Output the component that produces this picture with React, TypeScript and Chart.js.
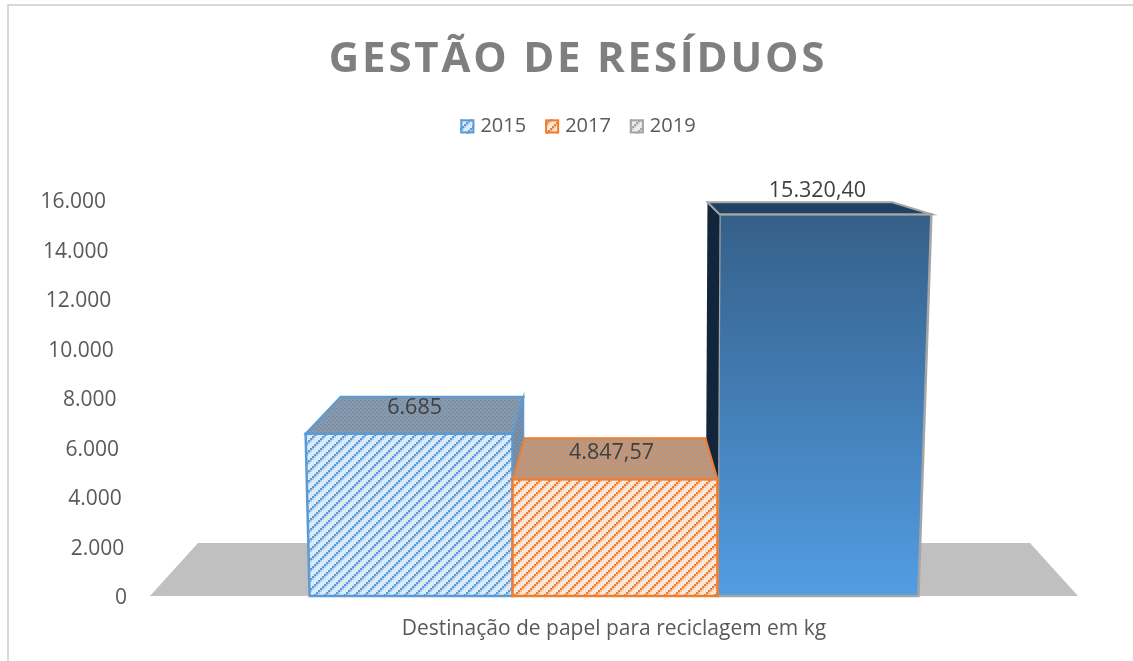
import React, { useEffect, useRef } from "react";
import { Chart, registerables } from "chart.js";

Chart.register(...registerables);

const categories = ["Destinação de papel para reciclagem em kg"];
const seriesNames = ["2015", "2017", "2019"];
const seriesValues = [6685, 4847.57, 15320.4];
const valueLabels = ["6.685", "4.847,57", "15.320,40"];
const axisMax = 16000;
const axisStep = 2000;

const FONT = "'Open Sans', sans-serif";

function tile(size: number, paint: (c: CanvasRenderingContext2D) => void) {
  const cv = document.createElement("canvas");
  cv.width = size;
  cv.height = size;
  const c = cv.getContext("2d")!;
  paint(c);
  return c.createPattern(cv, "repeat")!;
}

function stripes(bg: string, mid: string, fg: string) {
  const s = 10;
  return tile(s, (c) => {
    c.fillStyle = bg;
    c.fillRect(0, 0, s, s);
    for (let i = 0; i < s; i += 2) {
      const y = s - 2 - i;
      c.fillStyle = mid;
      c.fillRect((i + 2) % s, y, 2, 2);
      c.fillStyle = fg;
      c.fillRect(i, y, 2, 2);
    }
  });
}

function weave(a: string, b: string) {
  return tile(4, (c) => {
    c.fillStyle = a;
    c.fillRect(0, 0, 4, 4);
    c.fillStyle = b;
    c.fillRect(0, 0, 2, 1);
    c.fillRect(2, 2, 2, 1);
  });
}

// 3D look of each bar, as pixel offsets from the bar element
const looks = [
  { blx: 0, brx: 0, tlx: -4, trx: 0, dy: 3, backL: [35, -37], backR: [11, -37], label: [3.5, -23] },
  { blx: 0, brx: 2, tlx: 0, trx: 2, dy: 3, backL: [12, -41], backR: [-12, -41], label: [-2.5, -23] },
  { blx: 2, brx: 0, tlx: 4, trx: 13, dy: -3, backL: [-12, -12], backR: [-39, -12], label: [0.5, -26] },
];

function poly(c: CanvasRenderingContext2D, pts: number[][], fill: any, stroke: string, lw: number) {
  c.beginPath();
  pts.forEach((p, i) => (i ? c.lineTo(p[0], p[1]) : c.moveTo(p[0], p[1])));
  c.closePath();
  c.fillStyle = fill;
  c.fill();
  if (lw > 0) {
    c.strokeStyle = stroke;
    c.lineWidth = lw;
    c.lineJoin = "miter";
    c.stroke();
  }
}

export default function App() {
  const ref = useRef<HTMLCanvasElement>(null);

  useEffect(() => {
    document.body.style.margin = "0";
    const canvas = ref.current!;

    const blueFront = stripes("#dcebfa", "#a9cdee", "#5b9bd5");
    const orangeFront = stripes("#fce8da", "#f7bd96", "#ed7d31");
    const grayFront = stripes("#ededed", "#d2d2d2", "#a5a5a5");
    const blueTop = weave("#8a98a8", "#6b8fb3");
    const orangeTop = weave("#b49a8a", "#d9884f");
    const blueSide = weave("#7f8ea0", "#5f86ad");

    const fills = [blueFront, orangeFront, null as any];
    const lines = ["#5b9bd5", "#ed7d31", "#a5a5a5"];
    const swatchFills = [blueFront, orangeFront, grayFront];

    const barGradient = (chart: any) => {
      const a = chart.chartArea;
      if (!a) return "#4a86c0";
      const g = chart.ctx.createLinearGradient(0, a.top, 0, a.bottom);
      g.addColorStop(0, "#345d85");
      g.addColorStop(1, "#529de3");
      return g;
    };

    const plugin = {
      id: "solid",
      beforeLayout(chart: any) {
        if (chart.$wrapped) return;
        chart.$wrapped = true;
        const legend = chart.legend;
        const fitLegend = legend.fit.bind(legend);
        legend.fit = () => {
          fitLegend();
          legend.height += 54;
        };
        const tb = chart.titleBlock;
        const drawTitle = tb.draw.bind(tb);
        tb.draw = () => {
          const c: any = chart.ctx;
          c.letterSpacing = "2.8px";
          drawTitle();
          c.letterSpacing = "0px";
        };
        const y = chart.scales.y;
        const compute = y._computeLabelItems.bind(y);
        y._computeLabelItems = (area: any) =>
          compute(area).map((item: any, i: number) => {
            const frac = y.ticks[i].value / axisMax;
            item.options.translation[0] -= frac * 21;
            item.options.translation[1] += 2;
            return item;
          });
      },
      beforeDraw(chart: any) {
        const c = chart.ctx;
        c.save();
        c.strokeStyle = "#d9d9d9";
        c.lineWidth = 2;
        c.beginPath();
        c.moveTo(8, chart.height);
        c.lineTo(8, 5);
        c.lineTo(chart.width, 5);
        c.stroke();
        c.restore();
      },
      beforeDatasetsDraw(chart: any) {
        const c = chart.ctx;
        const { left, right, bottom } = chart.chartArea;
        c.save();
        poly(
          c,
          [
            [left, bottom],
            [left + 48, bottom - 53],
            [right - 48, bottom - 53],
            [right, bottom],
          ],
          "#c0c0c0",
          "",
          0
        );
        c.restore();
      },
      afterDatasetsDraw(chart: any) {
        const c = chart.ctx;
        const el = [0, 1, 2].map((i) => chart.getDatasetMeta(i).data[0] as any);
        const box = el.map((e, i) => {
          const l = looks[i];
          const x0 = e.x - e.width / 2;
          const x1 = e.x + e.width / 2;
          const top = e.y + l.dy;
          const tl = [x0 + l.tlx, top];
          const tr = [x1 + l.trx, top];
          return {
            bl: [x0 + l.blx, e.base],
            br: [x1 + l.brx, e.base],
            tl,
            tr,
            bkl: [tl[0] + l.backL[0], top + l.backL[1]],
            bkr: [tr[0] + l.backR[0], top + l.backR[1]],
          };
        });
        c.save();

        // tall bar, behind the others
        const b3 = box[2];
        poly(c, [b3.bl, b3.br, b3.tr, b3.tl], barGradient(chart), lines[2], 2.5);
        poly(c, [b3.bkl, b3.tl, b3.bl, [b3.bkl[0] - 2, b3.bl[1]]], "#12263b", lines[2], 0);
        poly(c, [b3.tl, b3.bkl, b3.bkr, b3.tr], "#1f4264", lines[2], 2);

        // first bar
        const b1 = box[0];
        poly(c, [b1.bl, b1.br, b1.tr, b1.tl], fills[0], lines[0], 2.5);
        poly(c, [b1.tr, b1.bkr, [b1.bkr[0], box[1].bkl[1]], box[1].tl], blueSide, lines[0], 1.5);
        poly(c, [b1.tl, b1.bkl, b1.bkr, b1.tr], blueTop, lines[0], 2);

        // second bar
        const b2 = box[1];
        poly(c, [b2.bl, b2.br, b2.tr, b2.tl], fills[1], lines[1], 2.5);
        poly(c, [b2.tl, b2.bkl, b2.bkr, b2.tr], orangeTop, lines[1], 2);

        // value labels
        c.font = `21.5px ${FONT}`;
        c.fillStyle = "#404040";
        c.textAlign = "center";
        c.textBaseline = "middle";
        el.forEach((e, i) => {
          c.fillText(valueLabels[i], e.x + looks[i].label[0], e.y + looks[i].label[1]);
        });
        c.restore();
      },
      afterDraw(chart: any) {
        const c = chart.ctx;
        c.save();
        chart.legend.legendHitBoxes.forEach((h: any, i: number) => {
          const cy = h.top + h.height / 2;
          c.fillStyle = swatchFills[i];
          c.fillRect(h.left, cy - 7, 14, 14);
          c.strokeStyle = lines[i];
          c.lineWidth = 2;
          c.strokeRect(h.left + 1, cy - 6, 12, 12);
        });
        c.restore();
      },
    };

    const chart = new Chart(canvas, {
      type: "bar",
      data: {
        labels: categories,
        datasets: seriesNames.map((name, i) => ({
          label: name,
          data: [seriesValues[i]],
          backgroundColor: i === 2 ? (ctx: any) => barGradient(ctx.chart) : fills[i],
          borderColor: lines[i],
          borderWidth: 0,
          barPercentage: 1,
          categoryPercentage: 0.656,
          yAxisID: "y",
        })),
      },
      options: {
        responsive: false,
        animation: false,
        font: { family: FONT },
        layout: { padding: { left: 23, right: 0, top: 0, bottom: 0 } },
        plugins: {
          tooltip: { enabled: false },
          title: {
            display: true,
            text: "GESTÃO DE RESÍDUOS",
            color: "#7f7f7f",
            font: { family: FONT, size: 42, weight: "bold" },
            padding: { top: 35, bottom: 12 },
          },
          legend: {
            display: true,
            position: "top",
            labels: {
              color: "#595959",
              font: { family: FONT, size: 20 },
              boxWidth: 10,
              boxHeight: 14,
              padding: 19,
              generateLabels: () =>
                seriesNames.map((name, i) => ({
                  text: name,
                  fillStyle: swatchFills[i],
                  strokeStyle: lines[i],
                  lineWidth: 0,
                  datasetIndex: i,
                  fontColor: "#595959",
                })),
            },
          },
        },
        scales: {
          x: {
            grid: { display: false },
            border: { display: false },
            ticks: { color: "#595959", font: { family: FONT, size: 21 }, padding: 12 },
            afterFit: (s: any) => {
              s.height = 65;
            },
          },
          y: {
            min: 0,
            max: axisMax,
            grid: { display: false, drawTicks: false },
            border: { display: false },
            ticks: {
              stepSize: axisStep,
              color: "#595959",
              font: { family: FONT, size: 21 },
              padding: 23,
              callback: (v: any) => String(v).replace(/\B(?=(\d{3})+$)/g, "."),
            },
            afterFit: (s: any) => {
              s.width = 127;
            },
          },
          y2: {
            position: "right",
            display: true,
            grid: { display: false, drawTicks: false },
            border: { display: false },
            ticks: { display: false },
            afterFit: (s: any) => {
              s.width = 55;
            },
          },
        },
      } as any,
      plugins: [plugin],
    });

    return () => chart.destroy();
  }, []);

  return (
    <canvas
      ref={ref}
      width={1133}
      height={661}
      style={{ display: "block", width: 1133, height: 661 }}
    />
  );
}
